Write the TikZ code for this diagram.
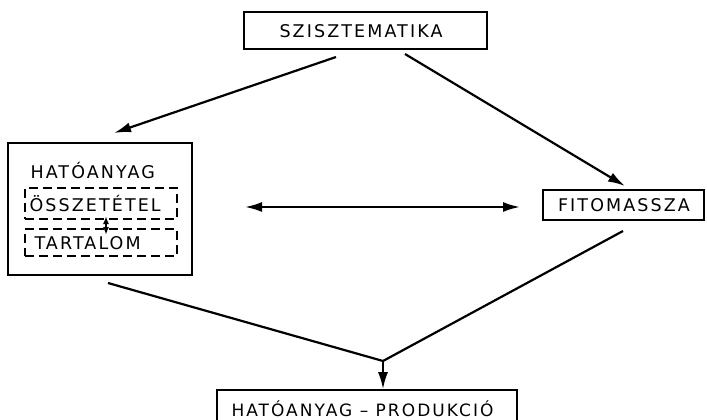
\documentclass[tikz,border=0pt]{standalone}
\usepackage{fontspec}
\setmainfont{DejaVu Sans}[LetterSpace=12]
\usetikzlibrary{arrows.meta}
\begin{document}
\begin{tikzpicture}[x=1pt,y=-1pt,
  box/.style={draw,line width=1.7pt,inner sep=0pt},
  dbox/.style={draw,dash pattern=on 9pt off 5pt,line width=1.5pt,inner sep=0pt},
  lbl/.style={font=\fontsize{17.5}{17.5}\selectfont},
  con/.style={line width=2.2pt},
  arr/.style={con,-{Latex[length=17pt,width=10pt]}},
  darr/.style={con,{Latex[length=17pt,width=10pt]}-{Latex[length=17pt,width=10pt]}}]
\useasboundingbox (0,0) rectangle (707,420);
% boxes
\node[box,minimum width=243pt,minimum height=37pt] (szi) at (365.5,30.5) {};
\node[lbl] (szit) at (361,31) {SZISZTEMATIKA};
\node[box,minimum width=184pt,minimum height=132pt] (hat) at (100,209) {};
\node[lbl,anchor=west] (hatt) at (27,171) {HATÓANYAG};
\node[dbox,minimum width=152pt,minimum height=31pt] (ossz) at (101,203.5) {};
\node[lbl,anchor=west] (osszt) at (26,204) {ÖSSZETÉTEL};
\node[dbox,minimum width=152pt,minimum height=27pt] (tart) at (101,242.5) {};
\node[lbl,anchor=west] (tartt) at (31,243) {TARTALOM};
\node[box,minimum width=161pt,minimum height=30pt] (fito) at (623.5,205) {};
\node[lbl] (fitot) at (624,205) {FITOMASSZA};
\node[box,minimum width=300pt,minimum height=40pt] (prod) at (367,410) {};
\node[lbl,font=\fontsize{17}{17}\selectfont] (prodt) at (362.5,409) {HATÓANYAG -- PRODUKCIÓ};
% connectors
\coordinate (s1) at (336,57);
\coordinate (s2) at (405,54);
\coordinate (h1) at (114,133);
\coordinate (f1) at (625,186);
\coordinate (d1) at (245,207);
\coordinate (d2) at (520,207);
\coordinate (hb) at (108,283);
\coordinate (fb) at (623,231);
\coordinate (j) at (383,361);
\coordinate (o1) at (106,216);
\coordinate (o2) at (106,235);
\draw[arr] (s1) -- (h1);
\draw[arr] (s2) -- (f1);
\draw[darr] (d1) -- (d2);
\draw[con,line join=round] (hb) -- (j) -- (fb);
\draw[arr] (j) -- (prod.north -| j);
\draw[line width=1.6pt,{Latex[length=8pt,width=6pt]}-{Latex[length=8pt,width=6pt]}] (o1) -- (o2);
\end{tikzpicture}
\end{document}
